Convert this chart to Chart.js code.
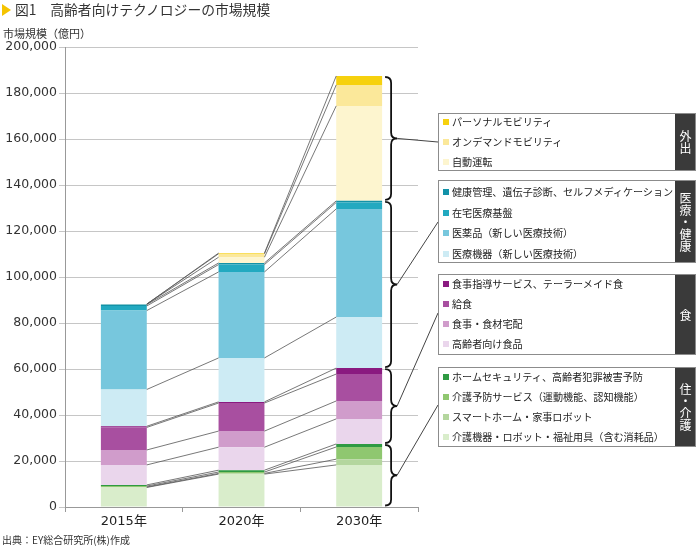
<!DOCTYPE html>
<html>
<head>
<meta charset="utf-8">
<script src="https://cdn.jsdelivr.net/npm/chart.js@4.4.1/dist/chart.umd.min.js"></script>
<style>
body{margin:0;width:700px;height:548px;position:relative;background:#fff;overflow:hidden;
  font-family:"Noto Sans CJK JP",sans-serif;color:#333}
#chart{position:absolute;left:0;top:0}
.title{position:absolute;left:2px;top:0;font-size:13.8px;line-height:18px;color:#333;white-space:nowrap}
.title .tri{display:inline-block;width:0;height:0;border-top:6px solid transparent;border-bottom:6px solid transparent;
  border-left:9px solid #f5c400;margin-right:4px;vertical-align:-1px}
.unit{position:absolute;left:3px;top:26px;font-size:11px;line-height:14px}
.src{position:absolute;left:2px;top:533px;font-size:10px;line-height:14px}
.box{position:absolute;left:438px;width:258px;border:1px solid #8c8c8c;background:#fff;box-sizing:border-box}
.box .item{position:relative;height:20px;line-height:20px;font-size:10.1px;padding-left:13px;white-space:nowrap;color:#222}
.box .sw{position:absolute;left:4px;top:7px;width:6px;height:6px}
.box .tab{position:absolute;right:0;top:0;bottom:0;width:20px;background:#3a3a3a;color:#fff;font-size:12px;
  display:flex;align-items:center;justify-content:center;writing-mode:vertical-rl;line-height:20px}
</style>
</head>
<body>
<canvas id="chart" width="700" height="548"></canvas>
<div class="title"><span class="tri"></span>図1　高齢者向けテクノロジーの市場規模</div>
<div class="unit">市場規模（億円）</div>
<div class="src">出典：EY総合研究所(株)作成</div>
<div id="legend"></div>
<script>
// categories
var years = ['2015年', '2020年', '2030年'];

// 住・介護 (億円)
var kaigoKiki = [8500, 14300, 18300];
var smartHome = [200, 300, 2500];
var kaigoYobo = [400, 600, 5300];
var homeSecurity = [500, 800, 1300];
// 食
var koureiShokuhin = [8700, 10000, 10900];
var takuhai = [6500, 7000, 7800];
var kyushoku = [9800, 12200, 11700];
var shokujiShido = [500, 500, 2600];
// 医療・健康
var iryoKiki = [16000, 19100, 22200];
var iyakuhin = [34300, 37400, 47000];
var zaitaku = [2000, 3200, 2800];
var kenkoKanri = [600, 700, 700];
// 外出
var jidoUnten = [200, 2500, 41300];
var onDemand = [0, 1500, 9100];
var personal = [0, 300, 3900];

var yMax = 200000;
var yStep = 20000;

// stacking order, bottom first
var series = [
	{label: '介護機器・ロボット・福祉用具（含む消耗品）', data: kaigoKiki, color: '#d9edcb'},
	{label: 'スマートホーム・家事ロボット', data: smartHome, color: '#b4d69e'},
	{label: '介護予防サービス（運動機能、認知機能）', data: kaigoYobo, color: '#8fc770'},
	{label: 'ホームセキュリティ、高齢者犯罪被害予防', data: homeSecurity, color: '#2f9a42'},
	{label: '高齢者向け食品', data: koureiShokuhin, color: '#ead6ec'},
	{label: '食事・食材宅配', data: takuhai, color: '#d09ccb'},
	{label: '給食', data: kyushoku, color: '#a84fa0'},
	{label: '食事指導サービス、テーラーメイド食', data: shokujiShido, color: '#8a1a80'},
	{label: '医療機器（新しい医療技術）', data: iryoKiki, color: '#cdebf4'},
	{label: '医薬品（新しい医療技術）', data: iyakuhin, color: '#77c7dd'},
	{label: '在宅医療基盤', data: zaitaku, color: '#22a9c0'},
	{label: '健康管理、遺伝子診断、セルフメディケーション', data: kenkoKanri, color: '#1292a8'},
	{label: '自動運転', data: jidoUnten, color: '#fdf5cf'},
	{label: 'オンデマンドモビリティ', data: onDemand, color: '#fbe89a'},
	{label: 'パーソナルモビリティ', data: personal, color: '#f6d10e'}
];

var groups = [
	{name: '外出', first: 12, last: 14, top: 113, height: 58, pad: -2, target: 142},
	{name: '医療・健康', first: 8, last: 11, top: 180, height: 83, pad: 1, target: 222},
	{name: '食', first: 4, last: 7, top: 274, height: 81, pad: -1, target: 313},
	{name: '住・介護', first: 0, last: 3, top: 367, height: 80, pad: -1, target: 405}
];

// legend boxes
var legendEl = document.getElementById('legend');
groups.forEach(function (g) {
	var box = document.createElement('div');
	box.className = 'box';
	box.style.top = g.top + 'px';
	box.style.height = g.height + 'px';
	var inner = document.createElement('div');
	inner.style.marginTop = g.pad + 'px';
	for (var i = g.last; i >= g.first; i--) {
		var it = document.createElement('div');
		it.className = 'item';
		it.innerHTML = '<span class="sw" style="background:' + series[i].color + '"></span>' + series[i].label;
		if (g.first === 8) it.style.height = '20.6px';
		inner.appendChild(it);
	}
	box.appendChild(inner);
	var tab = document.createElement('div');
	tab.className = 'tab';
	tab.textContent = g.name;
	box.appendChild(tab);
	legendEl.appendChild(box);
});

// thin lines joining the segment tops of neighbouring bars
var seriesLines = {
	id: 'seriesLines',
	afterDatasetsDraw: function (chart) {
		var ctx = chart.ctx;
		ctx.save();
		ctx.strokeStyle = '#555';
		ctx.lineWidth = 0.8;
		chart.data.datasets.forEach(function (ds, d) {
			var els = chart.getDatasetMeta(d).data;
			for (var i = 0; i < els.length - 1; i++) {
				var a = els[i], b = els[i + 1];
				ctx.beginPath();
				ctx.moveTo(a.x + a.width / 2, a.y);
				ctx.lineTo(b.x - b.width / 2, b.y);
				ctx.stroke();
			}
		});
		ctx.restore();
	}
};

// braces next to the last bar, with leaders to the legend boxes
var braces = {
	id: 'braces',
	afterDatasetsDraw: function (chart) {
		var ctx = chart.ctx;
		var last = years.length - 1;
		ctx.save();
		groups.forEach(function (g) {
			var topEl = chart.getDatasetMeta(g.last).data[last];
			var botEl = chart.getDatasetMeta(g.first).data[last];
			var x = topEl.x + topEl.width / 2 + 3;
			var y1 = topEl.y + 1, y2 = botEl.base - 1;
			var w = 12, r = 6, ym = (y1 + y2) / 2, xm = x + w / 2;
			ctx.strokeStyle = '#111';
			ctx.lineWidth = 1.8;
			ctx.beginPath();
			ctx.moveTo(x, y1);
			ctx.quadraticCurveTo(xm, y1, xm, y1 + r);
			ctx.lineTo(xm, ym - r);
			ctx.quadraticCurveTo(xm, ym, x + w, ym);
			ctx.quadraticCurveTo(xm, ym, xm, ym + r);
			ctx.lineTo(xm, y2 - r);
			ctx.quadraticCurveTo(xm, y2, x, y2);
			ctx.stroke();
			ctx.strokeStyle = '#444';
			ctx.lineWidth = 1;
			ctx.beginPath();
			ctx.moveTo(x + w, ym);
			ctx.lineTo(438, g.target);
			ctx.stroke();
		});
		ctx.restore();
	}
};

new Chart(document.getElementById('chart'), {
	type: 'bar',
	data: {
		labels: years,
		datasets: series.map(function (s) {
			return {
				label: s.label,
				data: s.data,
				backgroundColor: s.color,
				borderWidth: 0,
				barPercentage: 0.39,
				categoryPercentage: 1
			};
		})
	},
	options: {
		responsive: false,
		animation: false,
		layout: {padding: {left: 0, top: 47, right: 282, bottom: 11}},
		plugins: {legend: {display: false}, tooltip: {enabled: false}},
		scales: {
			x: {
				stacked: true,
				grid: {drawOnChartArea: false, tickLength: 5, color: '#999'},
				border: {color: '#999'},
				ticks: {color: '#222', padding: 2, font: {size: 13, family: '"DejaVu Sans", "Noto Sans CJK JP"'}},
				afterFit: function (s) { s.height = 30; }
			},
			y: {
				stacked: true,
				min: 0,
				max: yMax,
				grid: {color: '#c6c6c6', tickLength: 6},
				border: {color: '#999'},
				ticks: {
					stepSize: yStep,
					color: '#333',
					padding: 2,
					font: {size: 12.5, family: '"DejaVu Sans"'},
					callback: function (v) { return v.toLocaleString('en-US'); }
				},
				afterFit: function (s) { s.width = 65; }
			}
		}
	},
	plugins: [seriesLines, braces]
});
</script>
</body>
</html>
